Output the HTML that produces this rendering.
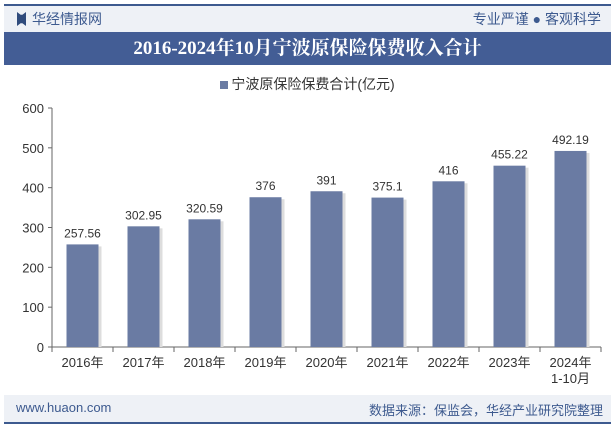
<!DOCTYPE html>
<html><head><meta charset="utf-8"><style>
body{margin:0;width:615px;height:427px;background:#fff;font-family:"Liberation Sans","Noto Sans CJK SC",sans-serif;position:relative;overflow:hidden}
.abs{position:absolute}
</style></head><body>
<div class="abs" style="left:4px;top:4px;width:607px;height:2px;background:#3d5a8f"></div>
<div class="abs" style="left:4px;top:6px;width:607px;height:26px;background:#eef1f6"></div>
<div class="abs" style="left:17px;top:12px;width:9px;height:14px;background:#2f4b7c;clip-path:polygon(0 0,40% 20%,60% 20%,100% 0,100% 100%,60% 80%,40% 80%,0 100%)"></div>
<div class="abs" style="left:32px;top:9px;font-size:14px;color:#3d5a8f">华经情报网</div>
<div class="abs" style="right:14px;top:9px;font-size:14px;color:#3d5a8f">专业严谨 ● 客观科学</div>
<div class="abs" style="left:4px;top:32px;width:607px;height:33px;background:#435d95;color:#fff;font-family:'Liberation Serif','Noto Serif CJK SC',serif;font-weight:bold;font-size:19px;text-align:center;line-height:33px">2016-2024年10月宁波原保险保费收入合计</div>
<div class="abs" style="left:0;width:615px;top:74px;text-align:center;font-size:14px;color:#333"><span style="display:inline-block;width:8px;height:8px;background:#6a7ba3;margin-right:3px"></span>宁波原保险保费合计(亿元)</div>
<svg class="abs" style="left:0;top:0" width="615" height="427" id="chart"></svg>
<div class="abs" style="left:4px;top:395px;width:607px;height:27px;background:#eef1f6"></div>
<div class="abs" style="left:16px;top:400px;font-size:13px;color:#3d5a8f">www.huaon.com</div>
<div class="abs" style="right:12px;top:400px;font-size:13px;color:#3d5a8f">数据来源：保监会，华经产业研究院整理</div>
<div class="abs" style="left:4px;top:422px;width:607px;height:2px;background:#3d5a8f"></div>
<script>
const categories=["2016年","2017年","2018年","2019年","2020年","2021年","2022年","2023年","2024年"];
const values=[257.56,302.95,320.59,376,391,375.1,416,455.22,492.19];
const valueLabels=["257.56","302.95","320.59","376","391","375.1","416","455.22","492.19"];
const yTicks=[0,100,200,300,400,500,600];
const svg=document.getElementById('chart');const NS='http://www.w3.org/2000/svg';
const x0=52,x1=601,yb=347,yt=108;
const step=(x1-x0)/categories.length;
const y=v=>yb-(v/600)*(yb-yt);
function mk(t,a,txt){const e=document.createElementNS(NS,t);for(const k in a)e.setAttribute(k,a[k]);if(txt!=null)e.textContent=txt;svg.appendChild(e);return e;}
let e=mk('line',{x1:x0,y1:yt,x2:x0,y2:yb,stroke:'#666'});

e=mk('line',{x1:x0,y1:yb,x2:x1,y2:yb,stroke:'#666'});

yTicks.forEach(t=>{
 const l=mk('line',{x1:x0-4,y1:y(t),x2:x0,y2:y(t),stroke:'#666'});
 
 const tx=mk('text',{x:x0-8,y:y(t)+5,'text-anchor':'end','font-size':13,fill:'#333'},t);
 
});
for(let i=0;i<=categories.length;i++){
 const l=mk('line',{x1:x0+i*step,y1:yb,x2:x0+i*step,y2:yb+5,stroke:'#666'});
 
}
categories.forEach((c,i)=>{
 const cx=x0+step*(i+0.5),bw=32;
 const sh=mk('rect',{x:cx-bw/2+3,y:y(values[i])+2,width:bw,height:yb-y(values[i])-2,fill:'#ddd'});
 
 const r=mk('rect',{x:cx-bw/2,y:y(values[i]),width:bw,height:yb-y(values[i]),fill:'#6a7ba3'});
 
 const v=mk('text',{x:cx,y:y(values[i])-7,'text-anchor':'middle','font-size':12,fill:'#333'},valueLabels[i]);
 
 const t=mk('text',{x:cx,y:yb+20,'text-anchor':'middle','font-size':13,fill:'#333'},c);
 
 if(i===categories.length-1){const t2=mk('text',{x:cx,y:yb+36,'text-anchor':'middle','font-size':13,fill:'#333'},'1-10月');
 }
});
</script>
</body></html>
